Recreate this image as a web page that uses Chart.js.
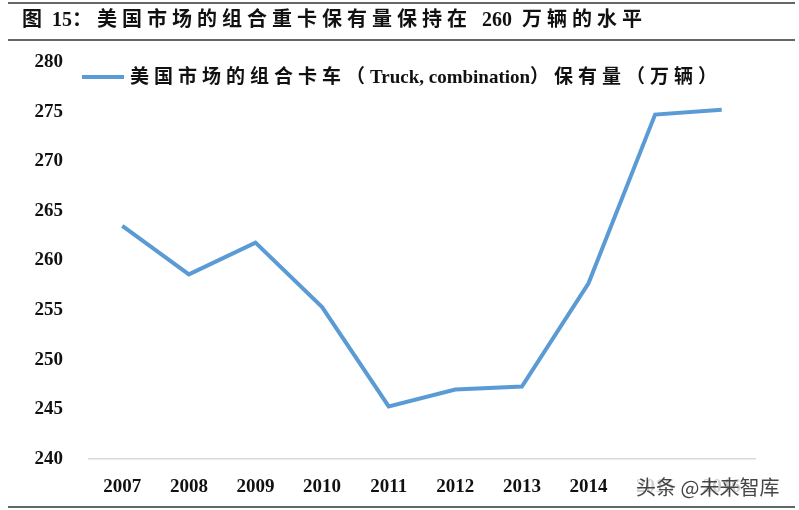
<!DOCTYPE html>
<html><head><meta charset="utf-8">
<script src="https://cdn.jsdelivr.net/npm/chart.js@4"></script>
<style>
html,body{margin:0;padding:0;background:#fff;}
#wrap{position:relative;width:799px;height:510px;}
canvas{position:absolute;left:0;top:0;}
</style></head><body>
<div id="wrap"><canvas id="c" width="799" height="510"></canvas></div>
<script>
// DATA
const YEARS = ['2007','2008','2009','2010','2011','2012','2013','2014','2015','2016'];
const STOCK = [263.5, 258.6, 261.8, 255.3, 245.3, 247.0, 247.3, 257.7, 274.7, 275.2];
const TITLE = '图 15：美国市场的组合重卡保有量保持在  260  万辆的水平';
const LEGEND = '美国市场的组合卡车（Truck, combination）保有量（万辆）';
const WATERMARK = '头条 @未来智库';

const SERIF = '"Liberation Serif", "Noto Sans CJK SC", serif';
const BLUE = '#5b9bd5';

// CJK runs get extra spacing, latin runs none
function spacedText(c, text, x, y, gap) {
    const runs = text.match(/[\u3000-\u9fff\uff00-\uffef]+|[^\u3000-\u9fff\uff00-\uffef]+/g);
    runs.forEach(r => {
        const cjk = /[\u3000-\u9fff\uff00-\uffef]/.test(r);
        c.letterSpacing = cjk ? gap + 'px' : '0px';
        c.fillText(r, x, y);
        x += c.measureText(r).width;
    });
    c.letterSpacing = '0px';
}

// title, frame lines, legend, watermark
const decor = {
    id: 'decor',
    afterDraw(chart) {
        const c = chart.ctx;
        c.save();
        c.strokeStyle = '#333';
        c.lineWidth = 1.5;
        [3, 40, 507].forEach(y => {
            c.beginPath(); c.moveTo(8, y); c.lineTo(795, y); c.stroke();
        });
        c.fillStyle = '#111';
        c.font = 'bold 20px ' + SERIF;
        c.textBaseline = 'middle';
        spacedText(c, TITLE, 22, 21, 5);

        c.strokeStyle = BLUE;
        c.lineWidth = 4;
        c.beginPath(); c.moveTo(82, 77); c.lineTo(124, 77); c.stroke();
        c.font = 'bold 19px ' + SERIF;
        spacedText(c, LEGEND, 130, 78, 5);

        // watermark sits on a light backing over the last labels
        c.fillStyle = 'rgba(255,255,255,0.8)';
        c.fillRect(630, 472, 160, 30);
        c.font = '20px "Noto Sans CJK SC", sans-serif';
        c.fillStyle = 'rgba(50,50,50,0.9)';
        c.fillText(WATERMARK, 636, 487);
        c.restore();
    }
};

new Chart(document.getElementById('c'), {
    type: 'line',
    data: {
        labels: YEARS,
        datasets: [{
            data: STOCK,
            borderColor: BLUE,
            borderWidth: 4,
            pointRadius: 0,
            tension: 0
        }]
    },
    options: {
        responsive: false,
        animation: false,
        layout: { padding: { top: 62, right: 44, bottom: 0, left: 0 } },
        plugins: { legend: { display: false }, tooltip: { enabled: false } },
        scales: {
            x: {
                offset: true,
                afterFit(s) { s.height = 51; },
                grid: { display: false, drawTicks: false },
                border: { color: '#d9d9d9', width: 1.5 },
                ticks: { color: '#111', font: { family: SERIF, size: 19, weight: 'bold' }, padding: 17 }
            },
            y: {
                min: 240, max: 280,
                afterFit(s) { s.width = 89; },
                grid: { display: false, drawTicks: false },
                border: { display: false },
                ticks: { stepSize: 5, color: '#111', font: { family: SERIF, size: 19, weight: 'bold' }, padding: 26 }
            }
        }
    },
    plugins: [decor]
});
</script>
</body></html>
